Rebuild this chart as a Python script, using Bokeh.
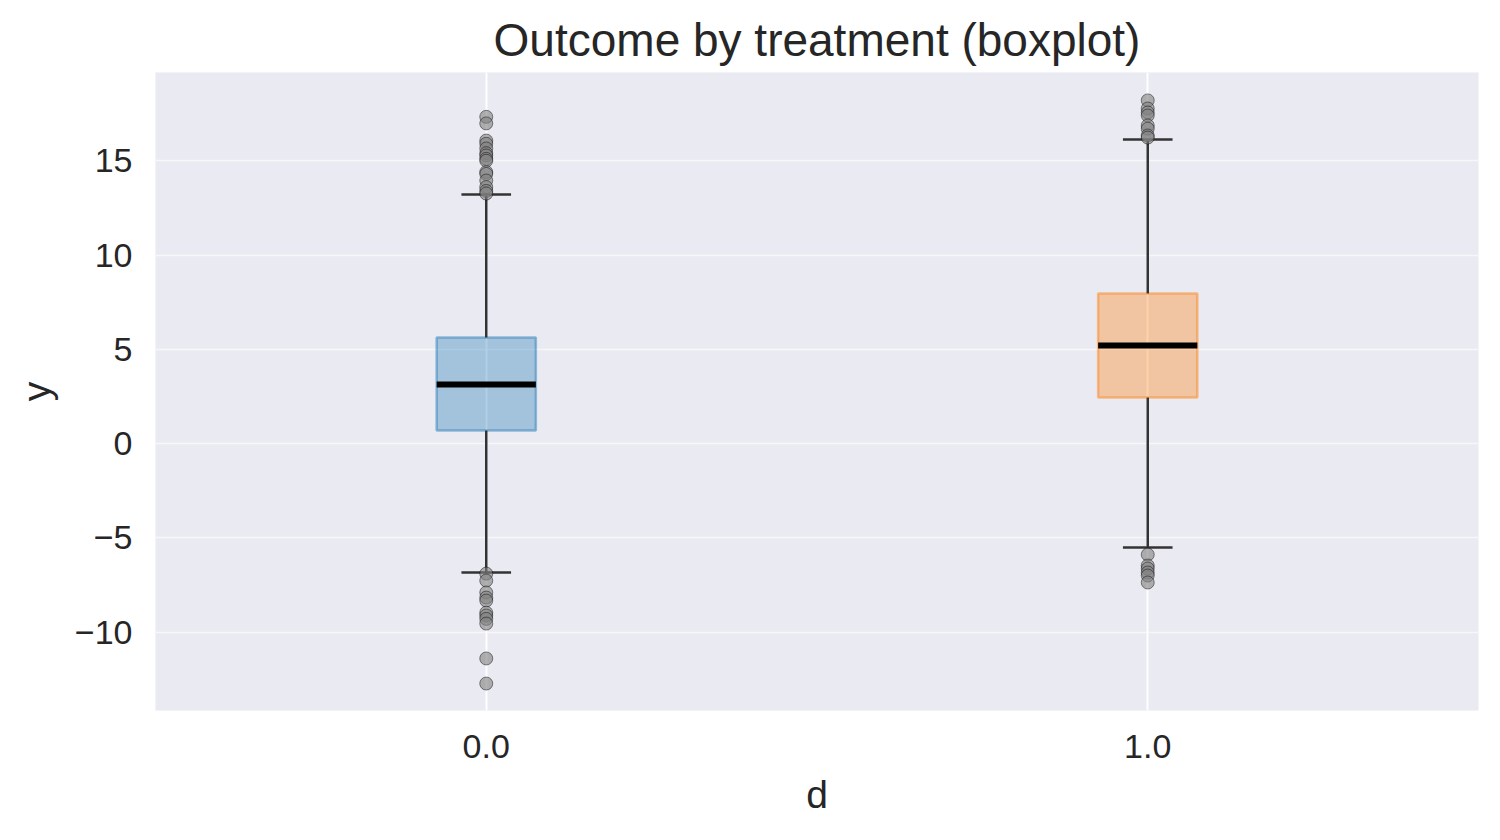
from bokeh.plotting import figure
from bokeh.models import FixedTicker, NumeralTickFormatter, Range1d
from bokeh.embed import file_html
from bokeh.resources import INLINE

# ---- data ----
groups = [0.0, 1.0]
q1 = [0.69, 2.44]
median = [3.13, 5.20]
q3 = [5.62, 7.96]
whisker_low = [-6.84, -5.52]
whisker_high = [13.21, 16.13]
box_colors = ["#1f77b4", "#ff7f0e"]

outliers_0 = [17.33, 16.98, 16.07, 15.9, 15.65, 15.4, 15.28, 15.1, 15.0, 14.4, 14.3,
              13.95, 13.6, 13.4, 13.26,
              -6.9, -7.27, -7.9, -8.17, -8.33, -8.97, -9.12, -9.3, -9.55, -11.4, -12.73]
outliers_1 = [18.2, 17.77, 17.56, 17.4, 16.87, 16.7, 16.34, 16.23,
              -5.89, -6.47, -6.63, -6.84, -7.0, -7.37]

y_ticks = [-10, -5, 0, 5, 10, 15]
y_tick_labels = ["\u221210", "\u22125", "0", "5", "10", "15"]
x_ticks = [0.0, 1.0]

title_text = "Outcome by treatment (boxplot)"
x_label = "d"
y_label = "y"

BOX_W = 0.15
CAP_W = 0.075
FONT = "Liberation Sans"
TXT = "#262626"

p = figure(width=1484, height=824, output_backend="svg", toolbar_location=None,
           x_range=Range1d(-0.5, 1.5), y_range=Range1d(-14.16, 19.68),
           min_border_left=155, min_border_right=6, min_border_top=72,
           min_border_bottom=114)

p.background_fill_color = "#eaeaf2"
p.border_fill_color = "white"
p.outline_line_color = None

p.title.text = title_text
p.title.align = "center"
p.title.text_font = FONT
p.title.text_font_size = "46px"
p.title.text_font_style = "normal"
p.title.text_color = TXT
p.title.standoff = 13

# axes
for ax in (p.xaxis[0], p.yaxis[0]):
    ax.axis_line_color = None
    ax.major_tick_line_color = None
    ax.minor_tick_line_color = None
    ax.major_label_text_font = FONT
    ax.major_label_text_font_size = "34px"
    ax.major_label_text_color = TXT
    ax.axis_label_text_font = FONT
    ax.axis_label_text_font_size = "39px"
    ax.axis_label_text_font_style = "normal"
    ax.axis_label_text_color = TXT

p.xaxis.ticker = FixedTicker(ticks=x_ticks)
p.xaxis.formatter = NumeralTickFormatter(format="0.0")
p.xaxis.axis_label = x_label
p.xaxis.major_label_standoff = 18
p.xaxis.axis_label_standoff = 12

p.yaxis.ticker = FixedTicker(ticks=y_ticks)
p.yaxis.major_label_overrides = {t: l for t, l in zip(y_ticks, y_tick_labels)}
p.yaxis.axis_label = y_label
p.yaxis.major_label_standoff = 17
p.yaxis.axis_label_standoff = 14

# grid
p.xgrid.grid_line_color = "white"
p.xgrid.grid_line_width = 2
p.ygrid.grid_line_color = "white"
p.ygrid.grid_line_width = 1.5
p.ygrid.grid_line_alpha = 0.6

# boxes
p.vbar(x=groups, width=BOX_W, bottom=q1, top=q3, fill_color=box_colors,
       fill_alpha=0.35, line_color=box_colors, line_alpha=0.45, line_width=2.5)

# whiskers
p.segment(x0=groups, y0=q3, x1=groups, y1=whisker_high, line_color="#333333", line_width=2.5)
p.segment(x0=groups, y0=q1, x1=groups, y1=whisker_low, line_color="#333333", line_width=2.5)

# caps
cap_x0 = [g - CAP_W / 2 for g in groups]
cap_x1 = [g + CAP_W / 2 for g in groups]
p.segment(x0=cap_x0, y0=whisker_high, x1=cap_x1, y1=whisker_high, line_color="#333333", line_width=2.5)
p.segment(x0=cap_x0, y0=whisker_low, x1=cap_x1, y1=whisker_low, line_color="#333333", line_width=2.5)

# medians
med_x0 = [g - BOX_W / 2 for g in groups]
med_x1 = [g + BOX_W / 2 for g in groups]
p.segment(x0=med_x0, y0=median, x1=med_x1, y1=median, line_color="black", line_width=6)

# outliers
out_x = [groups[0]] * len(outliers_0) + [groups[1]] * len(outliers_1)
out_y = outliers_0 + outliers_1
p.scatter(x=out_x, y=out_y, size=13, fill_color="#808080", fill_alpha=0.6,
          line_color="black", line_alpha=0.45, line_width=1)

open("out.html", "w").write(file_html(p, INLINE))
